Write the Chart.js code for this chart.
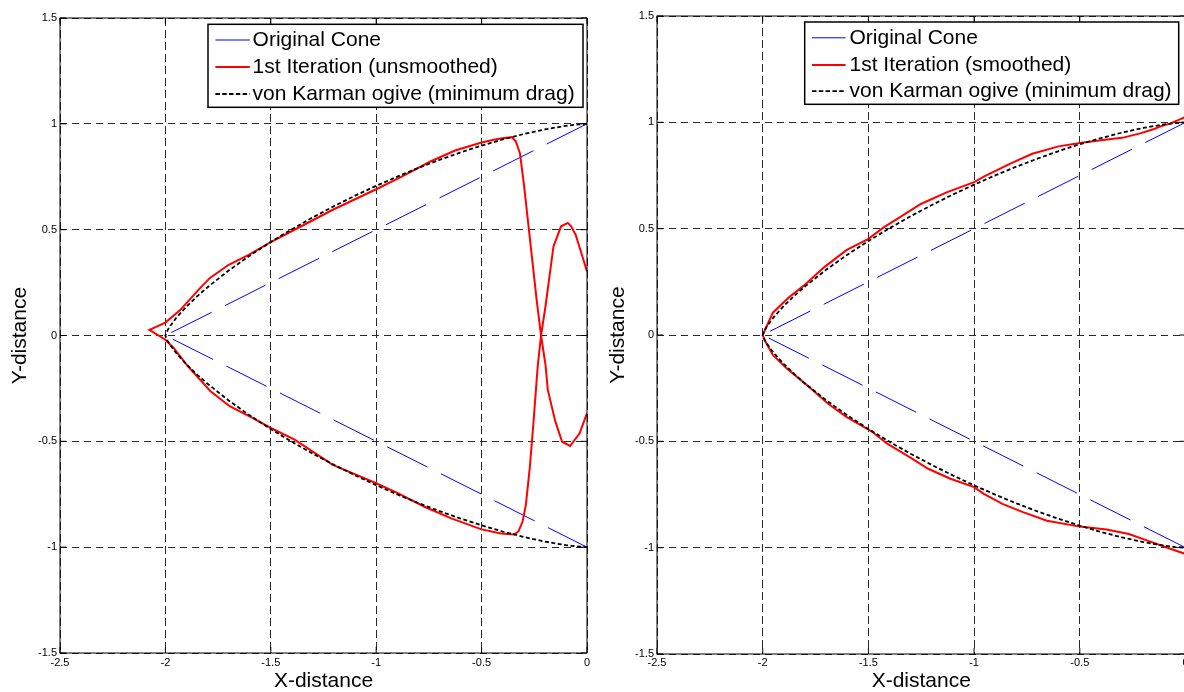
<!DOCTYPE html>
<html>
<head>
<meta charset="utf-8">
<script src="https://cdn.jsdelivr.net/npm/chart.js@4.4.1/dist/chart.umd.min.js"></script>
<style>
html,body{margin:0;padding:0;background:#fff;overflow:hidden;width:1184px;height:692px;}
#wrapL{position:absolute;left:0;top:0;width:600px;height:692px;}
#wrapR{position:absolute;left:600px;top:0;width:584px;height:692px;overflow:hidden;}
canvas{display:block;}
</style>
</head>
<body>
<div id="wrapL"><canvas id="cL" width="600" height="692"></canvas></div>
<div id="wrapR"><canvas id="cR" width="600" height="692"></canvas></div>
<script>
// ---- tick labels ----
const xTicks = [-2.5, -2, -1.5, -1, -0.5, 0];
const yTicks = [-1.5, -1, -0.5, 0, 0.5, 1, 1.5];

// ---- series labels ----
const coneLabel = 'Original Cone';
const unsmoothedLabel = '1st Iteration (unsmoothed)';
const smoothedLabel = '1st Iteration (smoothed)';
const ogiveLabel = 'von Karman ogive (minimum drag)';

// ---- Original cone ----
const coneX = [0, -2, 0];
const coneY = [1, 0, -1];

// ---- von Karman ogive ----
const ogiveX = [0, -0.05, -0.1, -0.2, -0.3, -0.4, -0.5, -0.6, -0.7, -0.8, -0.9, -1.0, -1.1, -1.2, -1.3, -1.4, -1.5, -1.6, -1.7, -1.8, -1.85, -1.9, -1.95, -1.98, -1.99, -2.0,
                -1.99, -1.98, -1.95, -1.9, -1.85, -1.8, -1.7, -1.6, -1.5, -1.4, -1.3, -1.2, -1.1, -1.0, -0.9, -0.8, -0.7, -0.6, -0.5, -0.4, -0.3, -0.2, -0.1, -0.05, 0];
const ogiveY = [1.0, 0.9966, 0.9906, 0.9736, 0.9518, 0.9261, 0.8969, 0.8647, 0.8295, 0.7915, 0.7507, 0.7071, 0.6606, 0.6111, 0.5585, 0.5023, 0.4422, 0.3773, 0.3067, 0.2281, 0.1846, 0.1367, 0.0816, 0.0411, 0.0245, 0,
                -0.0245, -0.0411, -0.0816, -0.1367, -0.1846, -0.2281, -0.3067, -0.3773, -0.4422, -0.5023, -0.5585, -0.6111, -0.6606, -0.7071, -0.7507, -0.7915, -0.8295, -0.8647, -0.8969, -0.9261, -0.9518, -0.9736, -0.9906, -0.9966, -1.0];

// ---- 1st iteration, unsmoothed (left panel) ----
const unsmoothedX = [0, -0.027, -0.054, -0.075, -0.091, -0.123, -0.159, -0.178, -0.197, -0.218, -0.234, -0.253, -0.271, -0.29, -0.306, -0.325, -0.345,
                     -0.408, -0.5, -0.644, -0.771, -0.898, -1.0, -1.206, -1.387, -1.5, -1.587, -1.695, -1.786, -1.895, -1.96, -2.0, -2.076,
                     -2.0, -1.93, -1.84, -1.79, -1.7, -1.605, -1.5, -1.333, -1.206, -1.0, -0.879, -0.743, -0.626, -0.5, -0.426, -0.357, -0.338, -0.318,
                     -0.3, -0.28, -0.26, -0.239, -0.218, -0.197, -0.186, -0.15, -0.118, -0.08, -0.035, 0];
const unsmoothedY = [0.303, 0.39, 0.476, 0.516, 0.532, 0.516, 0.421, 0.279, 0.137, 0, -0.147, -0.399, -0.62, -0.8, -0.88, -0.925, -0.94,
                     -0.935, -0.916, -0.864, -0.809, -0.745, -0.698, -0.611, -0.492, -0.437, -0.389, -0.334, -0.263, -0.144, -0.06, -0.02, 0.027,
                     0.061, 0.12, 0.219, 0.271, 0.334, 0.381, 0.441, 0.528, 0.594, 0.691, 0.751, 0.822, 0.874, 0.912, 0.928, 0.937, 0.918, 0.86,
                     0.72, 0.54, 0.36, 0.169, 0, -0.137, -0.257, -0.407, -0.502, -0.522, -0.462, -0.367];

// ---- 1st iteration, smoothed (right panel) ----
const smoothedX = [0.03, 0, -0.029, -0.074, -0.113, -0.145, -0.214, -0.3, -0.4, -0.5, -0.601, -0.725, -0.831, -0.954, -1.0, -1.13, -1.252, -1.358, -1.428, -1.5, -1.604, -1.71, -1.807, -1.877, -1.952, -2.0,
                   -1.991, -1.952, -1.886, -1.78, -1.692, -1.604, -1.516, -1.481, -1.411, -1.305, -1.217, -1.112, -1.0, -0.954, -0.866, -0.769, -0.655, -0.5, -0.373, -0.268, -0.18, -0.092, 0, 0.03];
const smoothedY = [1.04, 1.025, 1.013, 0.994, 0.983, 0.97, 0.948, 0.927, 0.916, 0.903, 0.887, 0.852, 0.805, 0.745, 0.719, 0.671, 0.616, 0.55, 0.506, 0.452, 0.399, 0.318, 0.231, 0.176, 0.105, 0,
                   -0.024, -0.094, -0.157, -0.244, -0.322, -0.385, -0.436, -0.456, -0.511, -0.574, -0.629, -0.676, -0.715, -0.747, -0.794, -0.833, -0.873, -0.901, -0.915, -0.936, -0.967, -0.998, -1.03, -1.045];

const FONT = '"Liberation Sans", Arial, Helvetica, sans-serif';
Chart.defaults.font.family = FONT;
Chart.defaults.color = '#000';

function pts(xs, ys) { return xs.map((x, i) => ({ x: x, y: ys[i] })); }

function framePlugin() {
  return {
    id: 'frame',
    afterDraw(chart) {
      const ctx = chart.ctx, a = chart.chartArea;
      const sx = chart.scales.x, sy = chart.scales.y;
      ctx.save();
      ctx.setLineDash([]);
      ctx.strokeStyle = '#000';
      ctx.lineWidth = 1;
      ctx.strokeRect(a.left, a.top, a.right - a.left, a.bottom - a.top);
      const L = 6;
      ctx.beginPath();
      sx.ticks.forEach(t => {
        const px = sx.getPixelForValue(t.value);
        ctx.moveTo(px, a.bottom); ctx.lineTo(px, a.bottom - L);
        ctx.moveTo(px, a.top); ctx.lineTo(px, a.top + L);
      });
      sy.ticks.forEach(t => {
        const py = sy.getPixelForValue(t.value);
        ctx.moveTo(a.left, py); ctx.lineTo(a.left + L, py);
        ctx.moveTo(a.right, py); ctx.lineTo(a.right - L, py);
      });
      ctx.stroke();
      ctx.restore();
    }
  };
}

function legendPlugin(cfg) {
  return {
    id: 'boxLegend',
    afterDraw(chart) {
      const ctx = chart.ctx;
      ctx.save();
      ctx.setLineDash([]);
      ctx.fillStyle = '#fff';
      ctx.fillRect(cfg.x, cfg.y, cfg.w, cfg.h);
      ctx.lineWidth = 1.5;
      ctx.strokeStyle = '#000';
      ctx.strokeRect(cfg.x, cfg.y, cfg.w, cfg.h);
      chart.data.datasets.forEach((ds, i) => {
        const y = cfg.rows[i];
        ctx.beginPath();
        ctx.strokeStyle = ds.borderColor;
        ctx.lineWidth = ds.borderWidth;
        ctx.setLineDash(ds.legendDash || []);
        ctx.moveTo(cfg.sx0, y);
        ctx.lineTo(cfg.sx1, y);
        ctx.stroke();
        ctx.setLineDash([]);
        ctx.fillStyle = '#000';
        ctx.font = '21px ' + FONT;
        ctx.textBaseline = 'middle';
        ctx.textAlign = 'left';
        ctx.fillText(ds.label, cfg.tx, y);
      });
      ctx.restore();
    }
  };
}

function makeChart(canvasId, redLabel, redX, redY, lay, leg) {
  const tickFont = { size: 11, family: FONT };
  const titleFont = { size: 21, family: FONT, lineHeight: 1 };
  return new Chart(document.getElementById(canvasId), {
    type: 'scatter',
    data: {
      datasets: [
        { label: coneLabel, data: pts(coneX, coneY), showLine: true, borderColor: '#0000ff', borderWidth: 1,
          borderDash: [45, 15], legendDash: [], pointRadius: 0, order: 2, tension: 0 },
        { label: redLabel, data: pts(redX, redY), showLine: true, borderColor: '#ff0000', borderWidth: 2,
          legendDash: [], pointRadius: 0, order: 1, tension: 0 },
        { label: ogiveLabel, data: pts(ogiveX, ogiveY), showLine: true, borderColor: '#000000', borderWidth: 1.8,
          borderDash: [4, 2.5], legendDash: [4.5, 2.3], pointRadius: 0, order: 0, tension: 0 }
      ]
    },
    options: {
      responsive: false,
      animation: false,
      events: [],
      layout: { padding: { top: lay.top, right: lay.right, left: 0, bottom: 0 } },
      plugins: { legend: { display: false }, tooltip: { enabled: false } },
      scales: {
        x: {
          type: 'linear', min: -2.5, max: 0,
          afterBuildTicks: s => { s.ticks = xTicks.map(v => ({ value: v })); },
          afterFit: s => { s.height = lay.xh; },
          ticks: { font: tickFont, color: '#000', padding: lay.xpad, maxRotation: 0, autoSkip: false, callback: v => String(v) },
          grid: { color: '#2a2a2a', lineWidth: 1, drawTicks: false },
          border: { display: false, dash: [8, 4] },
          title: { display: true, text: 'X-distance', font: titleFont, color: '#000', padding: { top: 0, bottom: 0 } }
        },
        y: {
          type: 'linear', min: -1.5, max: 1.5,
          afterBuildTicks: s => { s.ticks = yTicks.map(v => ({ value: v })); },
          afterFit: s => { s.width = lay.yw; },
          ticks: { font: tickFont, color: '#000', padding: 3, autoSkip: false, callback: v => String(v) },
          grid: { color: '#2a2a2a', lineWidth: 1, drawTicks: false },
          border: { display: false, dash: [7, 5] },
          title: { display: true, text: 'Y-distance', font: titleFont, color: '#000', padding: { top: lay.ytp, bottom: 0 } }
        }
      }
    },
    plugins: [framePlugin(), legendPlugin(leg)]
  });
}

makeChart('cL', unsmoothedLabel, unsmoothedX, unsmoothedY,
  { top: 18, right: 13, xh: 39, yw: 60, xpad: 3, ytp: 10 },
  { x: 208, y: 24.3, w: 375, h: 83, rows: [40, 67, 94], sx0: 215.4, sx1: 249.8, tx: 252.6 });

makeChart('cR', smoothedLabel, smoothedX, smoothedY,
  { top: 16, right: 14.5, xh: 38, yw: 57, xpad: 2, ytp: 8 },
  { x: 204.7, y: 22, w: 374, h: 82.3, rows: [37.8, 65, 91.2], sx0: 212, sx1: 245.6, tx: 249.5 });
</script>
</body>
</html>
